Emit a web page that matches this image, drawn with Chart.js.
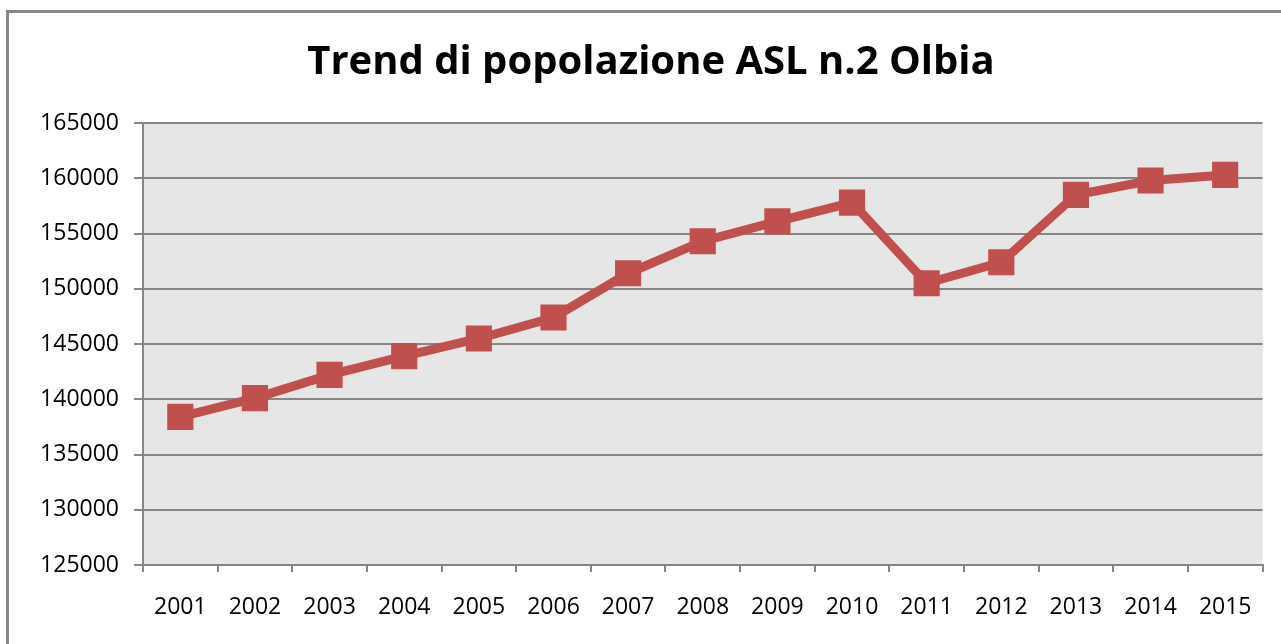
<!DOCTYPE html>
<html>
<head>
<meta charset="utf-8">
<script src="https://cdn.jsdelivr.net/npm/chart.js@4.4.0/dist/chart.umd.min.js"></script>
<style>
  html, body { margin: 0; padding: 0; background: #fff; overflow: hidden; }
  #frame { position: absolute; left: 6px; top: 10px; width: 1290px; height: 650px; border: 3px solid #868686; }
  #wrap { position: absolute; left: 0; top: 0; width: 1281px; height: 644px; }
</style>
</head>
<body>
<div id="frame"></div>
<div id="wrap"><canvas id="popChart" width="1281" height="644"></canvas></div>
<script>
// Dati della popolazione ASL n.2 Olbia
const anni = ['2001', '2002', '2003', '2004', '2005', '2006', '2007', '2008',
              '2009', '2010', '2011', '2012', '2013', '2014', '2015'];
const popolazione = [138400, 140100, 142200, 143900, 145500, 147400, 151400, 154300,
                     156100, 157800, 150500, 152400, 158500, 159800, 160300];
const yMin = 125000;
const yMax = 165000;
const yStep = 5000;
const titolo = 'Trend di popolazione ASL n.2 Olbia';

const rosso = '#C0504D';
const fontFamily = "'Open Sans', 'Liberation Sans', sans-serif";

// Sfondo grigio dell'area del grafico
const plotBackground = {
    id: 'plotBackground',
    beforeDraw: (chart) => {
        const a = chart.chartArea;
        const ctx = chart.ctx;
        ctx.save();
        ctx.fillStyle = '#E6E6E6';
        ctx.fillRect(a.left, a.top, a.right - a.left, a.bottom - a.top);
        ctx.restore();
    }
};

// Titolo centrato sul riquadro esterno (come in Excel)
const titlePlugin = {
    id: 'excelTitle',
    afterDraw: (chart) => {
        const ctx = chart.ctx;
        ctx.save();
        ctx.font = 'bold 40px ' + fontFamily;
        ctx.fillStyle = '#000';
        ctx.textAlign = 'center';
        ctx.textBaseline = 'middle';
        ctx.fillText(titolo, 651, 63);
        ctx.restore();
    }
};

const ctx = document.getElementById('popChart').getContext('2d');
new Chart(ctx, {
    type: 'line',
    data: {
        labels: anni,
        datasets: [{
            label: 'Popolazione',
            data: popolazione,
            borderColor: rosso,
            backgroundColor: rosso,
            borderWidth: 9,
            tension: 0,
            pointStyle: 'rect',
            pointRadius: 18.5,
            pointBackgroundColor: rosso,
            pointBorderColor: rosso,
            pointBorderWidth: 0
        }]
    },
    options: {
        responsive: false,
        animation: false,
        layout: { padding: { left: 0, right: 17, top: 123, bottom: 0 } },
        plugins: {
            legend: { display: false },
            tooltip: { enabled: false },
            title: { display: false }
        },
        scales: {
            x: {
                offset: true,
                grid: {
                    offset: true,
                    drawOnChartArea: false,
                    color: '#868686',
                    lineWidth: 2,
                    tickLength: 7
                },
                border: { color: '#868686', width: 2 },
                ticks: {
                    color: '#000',
                    font: { family: fontFamily, size: 23 },
                    padding: 22,
                    maxRotation: 0,
                    autoSkip: false
                },
                afterFit: (scale) => { scale.height = 79; }
            },
            y: {
                min: yMin,
                max: yMax,
                ticks: {
                    stepSize: yStep,
                    color: '#000',
                    font: { family: fontFamily, size: 23 },
                    padding: 15,
                    callback: (v) => String(v)
                },
                grid: {
                    color: '#868686',
                    lineWidth: 2,
                    tickLength: 9
                },
                border: { color: '#868686', width: 2 },
                afterFit: (scale) => { scale.width = 143; }
            }
        }
    },
    plugins: [plotBackground, titlePlugin]
});
</script>
</body>
</html>
